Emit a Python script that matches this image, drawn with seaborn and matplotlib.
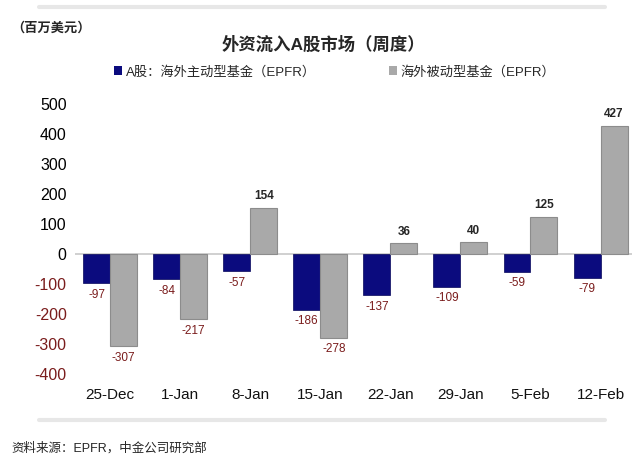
import matplotlib
matplotlib.use("Agg")
import matplotlib.pyplot as plt
import seaborn as sns
import pandas as pd
from matplotlib.patches import Patch

weeks = ["25-Dec", "1-Jan", "8-Jan", "15-Jan", "22-Jan", "29-Jan", "5-Feb", "12-Feb"]
active = [-97, -84, -57, -186, -137, -109, -59, -79]
passive = [-307, -217, 154, -278, 36, 40, 125, 427]
series_names = ["A股：海外主动型基金（EPFR）", "海外被动型基金（EPFR）"]
yticks = [-400, -300, -200, -100, 0, 100, 200, 300, 400, 500]

sns.set_theme(style="white")
FAM = ["Liberation Sans", "Noto Sans CJK SC", "DejaVu Sans"]
plt.rcParams["font.family"] = FAM

df = pd.DataFrame({
    "week": weeks * 2,
    "value": active + passive,
    "series": [series_names[0]] * len(weeks) + [series_names[1]] * len(weeks),
})

colors = {series_names[0]: "#0b0b7e", series_names[1]: "#a9a9a9"}
neg_color = "#7a1c1c"

fig = plt.figure(figsize=(6.44, 4.67), dpi=100)
ax = fig.add_axes([0.1165, 0.186, 0.865, 0.604])

sns.barplot(data=df, x="week", y="value", hue="series", palette=colors,
            width=0.77, gap=0, legend=False, ax=ax, saturation=1)

for i, cont in enumerate(ax.containers):
    for bar in cont:
        if i == 1:
            bar.set_edgecolor("#8c8c8c")
            bar.set_linewidth(0.8)
        else:
            bar.set_edgecolor("#06065a")
            bar.set_linewidth(0.5)
    texts = ax.bar_label(cont, fmt="%d", padding=4, fontsize=8.5, fontweight="bold")
    for t, v in zip(texts, cont.datavalues):
        if v < 0:
            t.set_color(neg_color)
            t.set_fontweight("normal")
            t.set_fontsize(8.5)

ax.axhline(0, color="#c8c8c8", lw=1.2, zorder=0)
ax.set_xlim(-0.5, 7.45)
ax.set_ylim(-420, 520)
ax.set_yticks(yticks)
ax.set_yticklabels([str(v) for v in yticks])
for lbl, v in zip(ax.get_yticklabels(), yticks):
    lbl.set_color(neg_color if v < 0 else "black")
    lbl.set_fontsize(11.5)
for lbl in ax.get_xticklabels():
    lbl.set_fontsize(11)
    lbl.set_color("#111111")
ax.tick_params(axis="both", length=0, pad=6)
ax.set_xlabel("")
ax.set_ylabel("")
sns.despine(ax=ax, left=True, bottom=True)

fig.text(0.502, 0.905, "外资流入A股市场（周度）", ha="center", va="center",
         fontsize=12.5, fontweight="bold", family=FAM)
fig.text(0.018, 0.94, "（百万美元）", ha="left", va="center", fontsize=9.5,
         fontweight="bold", family=FAM)

handles = [Patch(facecolor=colors[s], edgecolor="none") for s in series_names]
fig.legend(handles, series_names, loc="center", bbox_to_anchor=(0.52, 0.846), ncol=2,
           frameon=False, fontsize=9.5, handlelength=0.6, handleheight=0.6,
           handletextpad=0.3, columnspacing=5.5)

fig.text(0.018, 0.04, "资料来源：EPFR，中金公司研究部", ha="left", va="center",
         fontsize=9, family=FAM)

# faint frame shadows
fig.add_artist(plt.Line2D([0.06, 0.94], [0.985, 0.985], color="#d8d8d8", lw=3, alpha=0.6))
fig.add_artist(plt.Line2D([0.06, 0.94], [0.1, 0.1], color="#d8d8d8", lw=3, alpha=0.6))

fig.savefig("out.png", dpi=100)
